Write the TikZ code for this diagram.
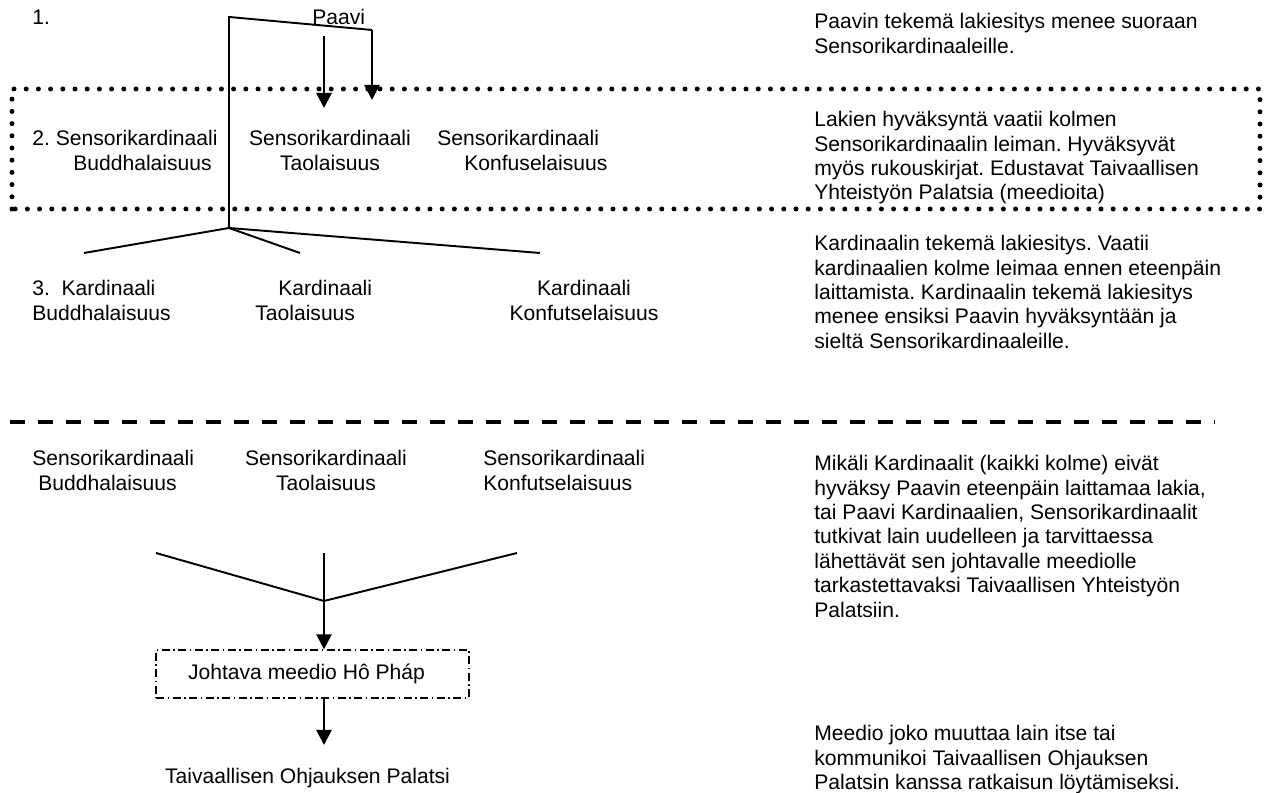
\documentclass[tikz,border=0pt]{standalone}
\usepackage{fontspec}
\setmainfont{Liberation Sans}
\usetikzlibrary{positioning, calc, arrows.meta}

\begin{document}
\begin{tikzpicture}[font=\fontsize{12}{13.9}\selectfont\frenchspacing,
    txt/.style={inner sep=0pt, align=left, anchor=north west},
    ctxt/.style={inner sep=0pt, align=center, anchor=north},
    link/.style={black, line width=1.1pt},
    flow/.style={black, line width=1.4pt, -{Triangle[length=0.3cm, width=0.3cm]}},
    dotbox/.style={line width=0.1cm, line cap=round, dash pattern=on 0pt off 0.244cm},
    dashline/.style={line width=0.08cm, dash pattern=on 0.3cm off 0.26cm},
    medbox/.style={draw, line width=0.7pt, dash pattern=on 0.16cm off 0.07cm on 0.03cm off 0.07cm,
                   minimum width=6.26cm, minimum height=0.96cm, inner sep=0pt}
]
\useasboundingbox (0,0) rectangle (25.46,15.86);

% ============ LEVEL 1: Paavi ============
\node[anchor=base west, inner sep=0pt] (one)   at (0.64,15.36) {1.};
\node[anchor=base west, inner sep=0pt] (paavi) at (6.24,15.36) {Paavi};

\coordinate (btop)   at (4.58,15.52);
\coordinate (bright) at (7.44,15.26);
\coordinate (btip)   at (7.44,13.86);
\coordinate (ptop)   at (6.48,15.14);
\coordinate (ptip)   at (6.48,13.70);
\coordinate (kjoin)  at (4.58,11.30);

\draw[link] (kjoin) -- (btop) -- (bright);
\draw[flow] (bright) -- (btip);
\draw[flow] (ptop) -- (ptip);

% ============ LEVEL 2: Sensorikardinaalit ============
\draw[dotbox] (0.24,11.68) rectangle (25.20,14.08);

\node[txt]  (s2b) at (0.64,13.26) {2. Sensorikardinaali\\\hspace*{0.82cm}Buddhalaisuus};
\node[ctxt] (s2t) at (6.60,13.26) {Sensorikardinaali\\Taolaisuus};
\node[txt]  (s2k) at (8.74,13.26) {Sensorikardinaali\\\hspace*{0.54cm}Konfuselaisuus};

% ============ LEVEL 3: Kardinaalit ============
\coordinate (kb) at (1.68,10.80);
\coordinate (kt) at (6.00,10.80);
\coordinate (kk) at (10.80,10.80);
\draw[link] (kb) -- (kjoin) -- (kk);
\draw[link] (kjoin) -- (kt);

\node[txt]  (k3b) at (0.64,10.26) {3.\ \ Kardinaali\\Buddhalaisuus};
\node[txt]  (k3t) at (5.10,10.26) {\hspace*{0.46cm}Kardinaali\\Taolaisuus};
\node[ctxt] (k3k) at (11.68,10.26) {Kardinaali\\Konfutselaisuus};

% ============ LEVEL 4: review ============
\draw[dashline] (0.20,7.42) -- (24.30,7.42);

\node[txt]  (s4b) at (0.64,6.86) {Sensorikardinaali\\\hspace*{0.12cm}Buddhalaisuus};
\node[ctxt] (s4t) at (6.52,6.86) {Sensorikardinaali\\Taolaisuus};
\node[txt]  (s4k) at (9.66,6.86) {Sensorikardinaali\\Konfutselaisuus};

\coordinate (vb)    at (3.12,4.80);
\coordinate (vt)    at (6.48,4.80);
\coordinate (vk)    at (10.34,4.80);
\coordinate (vjoin) at (6.48,3.84);
\draw[link] (vb) -- (vjoin) -- (vk);
\draw[link] (vt) -- (vjoin);

\node[medbox] (hophap) at (6.25,2.38) {\hspace*{-0.24cm}Johtava meedio Hô Pháp};
\draw[flow] (vjoin) -- (vjoin |- hophap.north);

\node[anchor=base, inner sep=0pt] (palatsi) at (6.15,0.18) {Taivaallisen Ohjauksen Palatsi};
\coordinate (ptip2) at (6.48,0.96);
\draw[flow] (vjoin |- hophap.south) -- (ptip2);

% Right column notes
\node[txt] (n1) at (16.28,15.60) {Paavin tekemä lakiesitys menee suoraan\\Sensorikardinaaleille.};
\node[txt] (n2) at (16.28,13.64) {Lakien hyväksyntä vaatii kolmen\\Sensorikardinaalin leiman. Hyväksyvät\\myös rukouskirjat. Edustavat Taivaallisen\\Yhteistyön Palatsia (meedioita)};
\node[txt] (n3) at (16.28,11.16) {Kardinaalin tekemä lakiesitys. Vaatii\\kardinaalien kolme leimaa ennen eteenpäin\\laittamista. Kardinaalin tekemä lakiesitys\\menee ensiksi Paavin hyväksyntään ja\\sieltä Sensorikardinaaleille.};
\node[txt] (n4) at (16.28,6.76) {Mikäli Kardinaalit (kaikki kolme) eivät\\hyväksy Paavin eteenpäin laittamaa lakia,\\tai Paavi Kardinaalien, Sensorikardinaalit\\tutkivat lain uudelleen ja tarvittaessa\\lähettävät sen johtavalle meediolle\\tarkastettavaksi Taivaallisen Yhteistyön\\Palatsiin.};
\node[txt] (n5) at (16.28,1.36) {Meedio joko muuttaa lain itse tai\\kommunikoi Taivaallisen Ohjauksen\\Palatsin kanssa ratkaisun löytämiseksi.};

\end{tikzpicture}
\end{document}
